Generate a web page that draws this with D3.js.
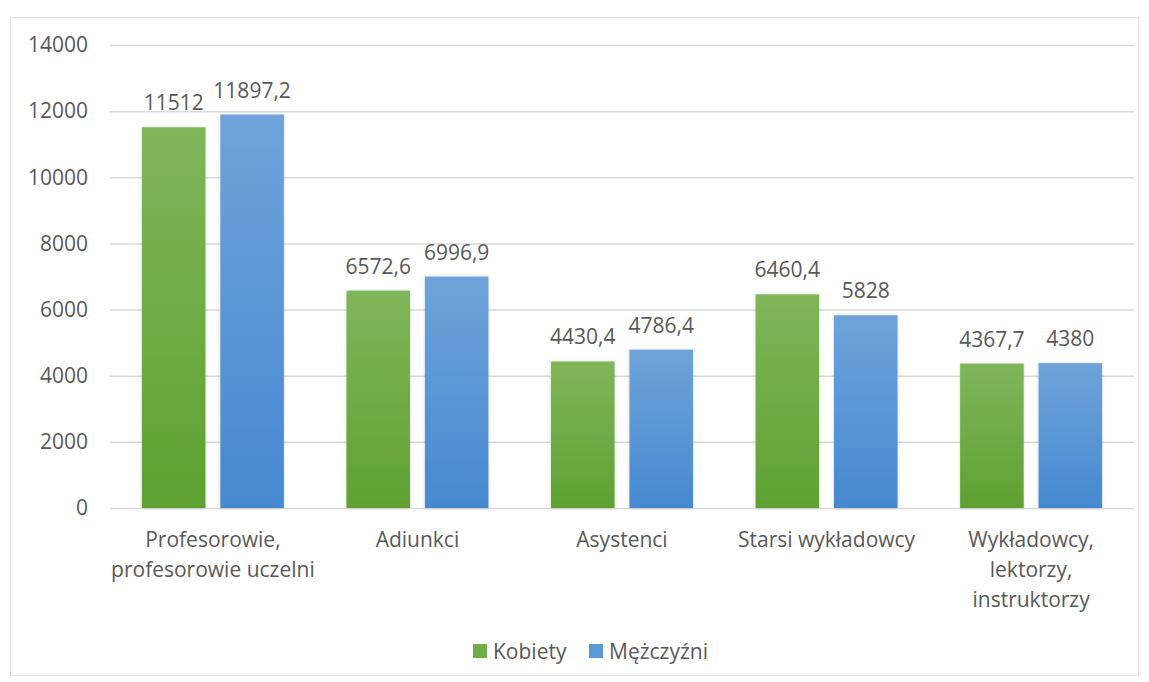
<!DOCTYPE html>
<html><head><meta charset="utf-8">
<script src="https://cdn.jsdelivr.net/npm/d3@7"></script>
<style>body{margin:0;background:#fff}svg{display:block}text{font-family:"Open Sans",sans-serif;fill:#595959}</style>
</head><body>
<svg id="c" width="1149" height="682"></svg>
<script>
const categories = [["Profesorowie,","profesorowie uczelni"],["Adiunkci"],["Asystenci"],["Starsi wykładowcy"],["Wykładowcy,","lektorzy,","instruktorzy"]];
const seriesNames = ["Kobiety","Mężczyźni"];
const kobiety = [11512, 6572.6, 4430.4, 6460.4, 4367.7];
const mezczyzni = [11897.2, 6996.9, 4786.4, 5828, 4380];
const yTicks = [0,2000,4000,6000,8000,10000,12000,14000];

(function(){
const svg = d3.select("#c");
const defs = svg.append("defs");
const g1 = defs.append("linearGradient").attr("id","gG").attr("x1",0).attr("y1",0).attr("x2",0).attr("y2",1);
g1.append("stop").attr("offset","0%").attr("stop-color","#7fb65a");
g1.append("stop").attr("offset","100%").attr("stop-color","#5fa132");
const g2 = defs.append("linearGradient").attr("id","gB").attr("x1",0).attr("y1",0).attr("x2",0).attr("y2",1);
g2.append("stop").attr("offset","0%").attr("stop-color","#6fa3da");
g2.append("stop").attr("offset","100%").attr("stop-color","#4689d0");
const f = defs.append("filter").attr("id","sh").attr("x","-20%").attr("y","-5%").attr("width","140%").attr("height","110%");
f.append("feDropShadow").attr("dx",0).attr("dy",0).attr("stdDeviation",1.5).attr("flood-color","#000").attr("flood-opacity",0.18);

svg.append("rect").attr("x",10.5).attr("y",17.5).attr("width",1128).attr("height",658).attr("fill","none").attr("stroke","#e3e3e3").attr("stroke-width",1);

const pLeft = 110, pRight = 1134, pTop = 45, pBottom = 508;
const x = d3.scaleBand().domain(d3.range(categories.length)).range([pLeft,pRight]).paddingInner(0.306).paddingOuter(0.156);
const xs = d3.scaleBand().domain([0,1]).range([0,x.bandwidth()]).paddingInner(0.19);
const y = d3.scaleLinear().domain([0,14000]).range([pBottom,pTop]);
const fmt = v => String(v).replace(".", ",");

const grid = svg.append("g");
grid.selectAll("line").data(yTicks).join("line")
  .attr("x1",pLeft).attr("x2",pRight).attr("y1",d=>y(d)+0.5).attr("y2",d=>y(d)+0.5)
  .attr("stroke","#d9d9d9").attr("stroke-width",1.5);

const yAxis = svg.append("g").attr("transform",`translate(${pLeft},0)`)
  .call(d3.axisLeft(y).tickValues(yTicks).tickSize(0).tickPadding(22).tickFormat(d=>d));
yAxis.select(".domain").remove();
yAxis.selectAll("text").style("font-size","21px").style("fill","#595959").style("font-family","'Open Sans',sans-serif");

const series = [kobiety, mezczyzni];
const fills = ["url(#gG)","url(#gB)"];
series.forEach((vals,si)=>{
  const gs = svg.append("g");
  gs.selectAll("rect").data(vals).join("rect")
    .attr("x",(d,i)=>x(i)+xs(si)).attr("width",xs.bandwidth())
    .attr("y",d=>y(d)).attr("height",d=>pBottom-y(d))
    .attr("fill",fills[si]).attr("filter","url(#sh)");
  gs.selectAll("text").data(vals).join("text")
    .attr("x",(d,i)=>x(i)+xs(si)+xs.bandwidth()/2).attr("y",d=>y(d)-17)
    .attr("text-anchor","middle").style("font-size","21px").text(fmt);
});

const cl = svg.append("g");
categories.forEach((lines,i)=>{
  const t = cl.append("text").attr("text-anchor","middle").style("font-size","21px")
    .attr("x",x(i)+x.bandwidth()/2).attr("y",547);
  lines.forEach((ln,j)=>t.append("tspan").attr("x",x(i)+x.bandwidth()/2).attr("dy",j?30:0).text(ln));
});

const leg = svg.append("g");
const lx = [473, 589];
seriesNames.forEach((n,i)=>{
  leg.append("rect").attr("x",lx[i]).attr("y",644).attr("width",14).attr("height",14).attr("fill",i?"#5b9bd5":"#70ad47");
  leg.append("text").attr("x",lx[i]+20).attr("y",659).style("font-size","21px").text(n);
});
})();
</script>
</body></html>
